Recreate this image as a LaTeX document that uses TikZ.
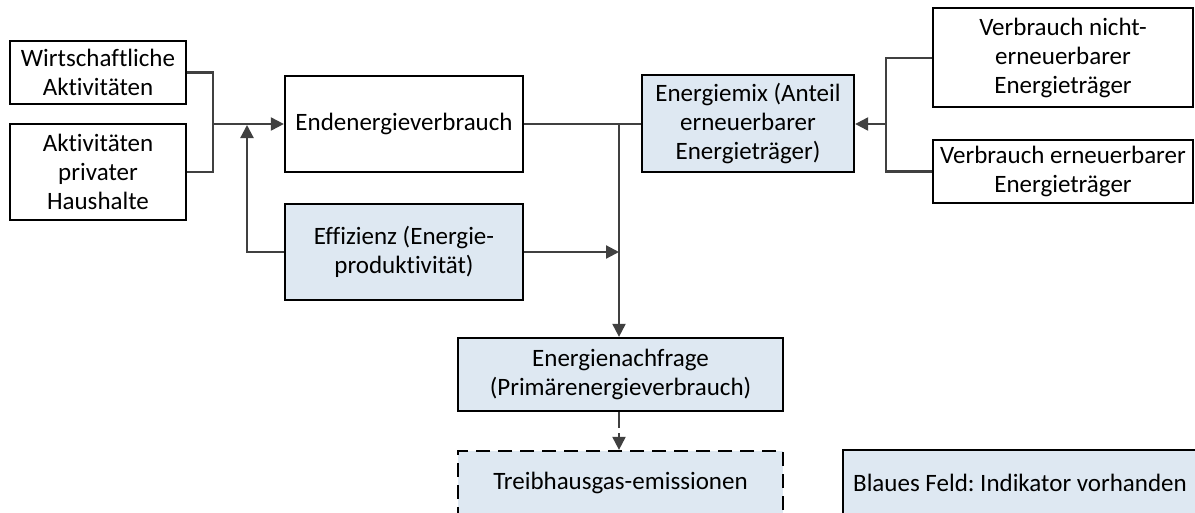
\documentclass[tikz,border=0pt]{standalone}
\usepackage{fontspec}
\setmainfont[Ligatures=CommonOff]{Carlito}
\usetikzlibrary{arrows.meta}
\definecolor{indblue}{HTML}{DEE8F2}
\definecolor{linkgray}{HTML}{404040}
\frenchspacing
\tikzset{
  box/.style={draw=black, line width=2.3pt, fill=white, inner sep=0pt, align=center,
    font=\fontsize{25}{29}\selectfont},
  ind/.style={box, fill=indblue},
  link/.style={draw=linkgray, line width=2.2pt},
  arr/.style={link, -{Triangle[length=13pt,width=13pt]}},
}
\begin{document}
\begin{tikzpicture}[x=1pt,y=-1pt]
\clip (0,0) rectangle (1195,512);
\fill[white] (0,0) rectangle (1195,512);

% input boxes on the left
\node[box, minimum width=176pt, minimum height=63pt] (wa) at (98,72.5) {Wirtschaftliche\\Aktivitäten};
\node[box, minimum width=176pt, minimum height=96pt] (ph) at (98,172) {Aktivitäten\\privater\\Haushalte};

% central chain
\node[box, minimum width=238pt, minimum height=96pt] (end) at (404,124) {Endenergieverbrauch};
\node[ind, minimum width=238pt, minimum height=96pt] (eff) at (404,252) {Effizienz (Energie-\\produktivität)};
\node[ind, minimum width=212pt, minimum height=97pt] (mix) at (748,123.5) {Energiemix (Anteil\\erneuerbarer\\Energieträger)};

% sources of the energy mix
\node[box, minimum width=260pt, minimum height=99pt] (vn) at (1063,57.5) {Verbrauch nicht-\\erneuerbarer\\Energieträger};
\node[box, minimum width=260pt, minimum height=63pt] (ve) at (1063,171.5) {Verbrauch erneuerbarer\\Energieträger};

% demand and emissions
\node[ind, minimum width=325pt, minimum height=73pt] (nach) at (620.5,374.5) {Energienachfrage\\(Primärenergieverbrauch)};
\node[ind, dash pattern=on 14pt off 8pt, minimum width=325pt, minimum height=64pt] (thg) at (620.5,483) {Treibhausgas-emissionen};

% legend
\node[ind, minimum width=354pt, minimum height=66pt] (leg) at (1020,483) {Blaues Feld: Indikator vorhanden};

% junction points
\coordinate (jl) at (213,124);
\coordinate (jr) at (886,124);
\coordinate (jd) at (619,124);

% connectors
\draw[link] (wa.east) -| (jl);
\draw[link] (ph.east) -| (jl);
\draw[arr] (jl) -- (end.west);
\draw[arr] (eff.west) -| (247,125);
\draw[arr] (eff.east) -- (eff.east -| jd);
\draw[link] (end.east) -- (mix.west |- end.east);
\draw[arr] (jd) -- (jd |- nach.north);
\draw[link] (vn.west |- 0,58) -| (jr);
\draw[link] (ve.west) -| (jr);
\draw[arr] (jr) -- (mix.east |- jr);
\draw[arr, dash pattern=on 16pt off 5pt] (nach.south -| jd) -- (thg.north -| jd);
\end{tikzpicture}
\end{document}
